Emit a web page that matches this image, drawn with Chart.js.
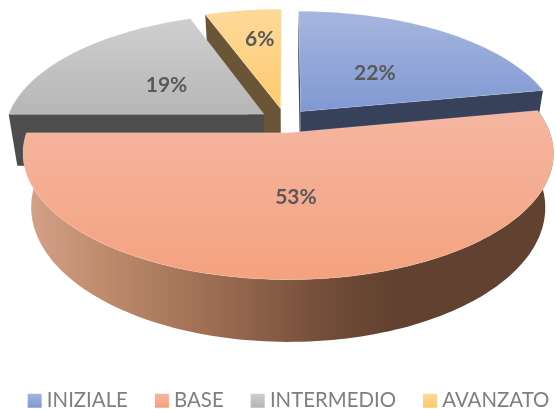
<!DOCTYPE html>
<html><head><meta charset="utf-8">
<style>html,body{margin:0;padding:0;background:#fff}canvas{display:block}</style>
<script src="https://cdn.jsdelivr.net/npm/chart.js@4"></script>
</head><body><canvas id="c" width="556" height="409"></canvas>
<script>
const categories = ['INIZIALE', 'BASE', 'INTERMEDIO', 'AVANZATO'];
const seriesValues = [22, 53, 19.4, 5.6];
const topLight = ['#a6b6dd', '#f5b6a1', '#cfcfcf', '#fdd99a'];
const topDark = ['#8099d3', '#f4a27e', '#b6b6b6', '#fdcb6e'];
const faceColors = ['#38415a', '#61412f', '#4d4d4d', '#6a5637'];
const explodeAcross = [0.09, 0.09, 0.105, 0.12];
const explodeDepth = [0.115, 0.09, 0.115, 0.115];
const labelNudge = [[3, 0], [-5, 1], [-4, 0], [3, -8]];

// projection of the flat pie onto the tilted view
const OX = 286, OY = 122, K = 258, Q = 0.463, P = 0.16;
const BOT_K = 0.969, BOT_DY = 52, BOT_Q = 1.065;
function top3(u, v) { const w = 1 - P * v; return [OX + K * u / w, OY + K * Q * v / w]; }
function bot3(u, v) { const w = 1 - P * v; return [OX + K * BOT_K * u / w, OY + BOT_DY + K * Q * BOT_Q * v / w]; }
function world(ang, r, off) { return [off[0] + r * Math.cos(ang), off[1] + r * Math.sin(ang)]; }
function arcPts(fn, a, b, off) {
  const n = Math.max(8, Math.ceil(Math.abs(b - a) * 40)), out = [];
  for (let i = 0; i <= n; i++) { const t = a + (b - a) * i / n; const p = world(t, 1, off); out.push(fn(p[0], p[1])); }
  return out;
}
function poly(ctx, pts) { ctx.beginPath(); pts.forEach((p, i) => i ? ctx.lineTo(p[0], p[1]) : ctx.moveTo(p[0], p[1])); ctx.closePath(); }
function offsetOf(el, i) { const mid = (el.startAngle + el.endAngle) / 2; return [explodeAcross[i] * Math.cos(mid), explodeDepth[i] * Math.sin(mid)]; }

const pie3d = {
  id: 'pie3d',
  beforeDatasetsDraw(chart) {
    const ctx = chart.ctx, meta = chart.getDatasetMeta(0), total = seriesValues.reduce((a, b) => a + b, 0);
    const order = [3, 0, 2, 1];
    ctx.save();
    order.forEach(i => {
      const el = meta.data[i], a = el.startAngle, b = el.endAngle;
      const off = offsetOf(el, i);
      const apexT = top3(off[0], off[1]), apexB = bot3(off[0], off[1]);
      const topArc = arcPts(top3, a, b, off), botArc = arcPts(bot3, a, b, off);
      if (i === 1) {
        const g = ctx.createLinearGradient(26, 0, 392, 0);
        g.addColorStop(0, '#d4a28a'); g.addColorStop(0.2, '#c08c6e'); g.addColorStop(0.55, '#98694f');
        g.addColorStop(0.8, '#754f3a'); g.addColorStop(1, faceColors[1]);
        ctx.fillStyle = g;
        poly(ctx, topArc.concat(botArc.slice().reverse())); ctx.fill();
      } else {
        ctx.fillStyle = faceColors[i];
        const sa = topArc[0], sb = botArc[0], ea = topArc[topArc.length - 1], eb = botArc[botArc.length - 1];
        if (i === 0) {
          poly(ctx, [apexT, ea, eb, apexB]); ctx.fill();
          poly(ctx, [apexT, sa, sb, apexB]); ctx.fill();
        }
        if (i === 2 || i === 3) { poly(ctx, [apexT, sa, sb, apexB]); ctx.fill(); }
      }
      const path = [apexT].concat(topArc);
      const ys = path.map(p => p[1]);
      const g2 = ctx.createLinearGradient(0, Math.min(...ys), 0, Math.max(...ys));
      g2.addColorStop(0, topLight[i]); g2.addColorStop(1, topDark[i]);
      ctx.fillStyle = g2;
      poly(ctx, path); ctx.fill();
      ctx.strokeStyle = 'rgba(255,255,255,0.22)'; ctx.lineWidth = 0.7; ctx.stroke();
    });
    ctx.fillStyle = '#595959';
    ctx.font = 'bold 21px Lato';
    ctx.textAlign = 'center'; ctx.textBaseline = 'middle';
    seriesValues.forEach((v, i) => {
      const el = meta.data[i], mid = (el.startAngle + el.endAngle) / 2;
      const r = v < 10 ? 0.6 : 0.47;
      const p = world(mid, r, offsetOf(el, i)), s = top3(p[0], p[1]);
      ctx.fillText(Math.round(v / total * 100) + '%', s[0] + labelNudge[i][0], s[1] + 1 + labelNudge[i][1]);
    });
    ctx.restore();
    return false;
  }
};

const ctxMain = document.getElementById('c').getContext('2d');
function legendPaint(i) {
  const g = ctxMain.createLinearGradient(0, 393, 0, 407);
  g.addColorStop(0, topLight[i]); g.addColorStop(1, topDark[i]);
  return g;
}
new Chart(ctxMain, {
  type: 'pie',
  data: { labels: categories, datasets: [{ data: seriesValues, backgroundColor: topDark, borderWidth: 0 }] },
  plugins: [pie3d],
  options: {
    responsive: false, animation: false,
    layout: { padding: { bottom: -12, left: -7, right: -33 } },
    plugins: {
      tooltip: { enabled: false },
      legend: {
        position: 'bottom',
        labels: {
          boxWidth: 4, boxHeight: 4, padding: 32,
          color: '#7f7f7f', font: { family: 'Lato', size: 20.4 },
          generateLabels: () => categories.map((t, i) => ({
            text: t, fillStyle: legendPaint(i), strokeStyle: legendPaint(i), lineWidth: 10, fontColor: '#7f7f7f', hidden: false, index: i
          }))
        }
      }
    }
  }
});
</script></body></html>
